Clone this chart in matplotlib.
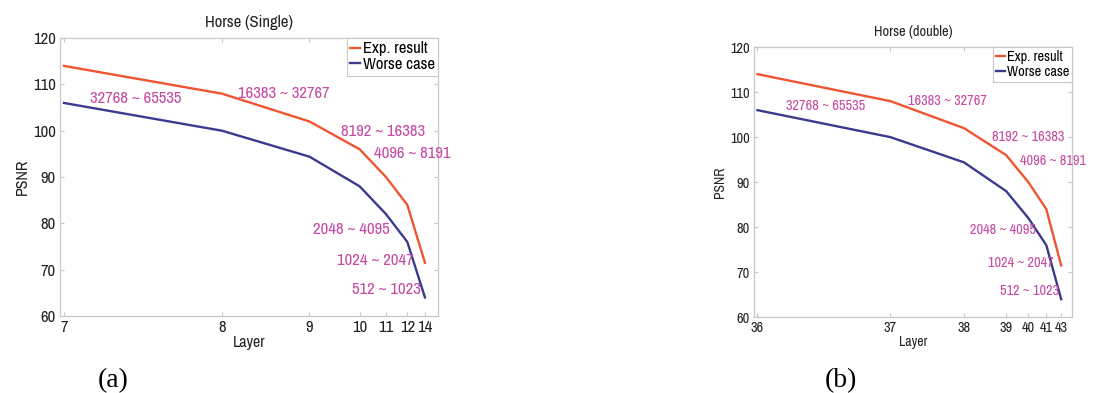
import matplotlib
matplotlib.use("Agg")
import matplotlib.pyplot as plt

# ---------------- data ----------------
layers_single = ["7", "8", "9", "10", "11", "12", "14"]
layers_double = ["36", "37", "38", "39", "40", "41", "43"]
# x positions of the layers on the (non-linear) axis
layer_pos = [0.0, 0.438, 0.680, 0.819, 0.892, 0.951, 1.0]
exp_result = [114.0, 108.0, 102.0, 96.0, 90.0, 84.0, 71.5]
worse_case = [106.0, 100.0, 94.4, 88.0, 82.0, 76.0, 64.0]
range_labels = ["32768 ~ 65535", "16383 ~ 32767", "8192 ~ 16383", "4096 ~ 8191",
                "2048 ~ 4095", "1024 ~ 2047", "512 ~ 1023"]
titles = ["Horse (Single)", "Horse (double)"]
panel_tags = ["(a)", "(b)"]

# ---------------- style ----------------
plt.rcParams["font.family"] = ["Archivo Narrow", "DejaVu Sans"]

RED = "#f05532"
BLUE = "#3b3a8e"
MAG = "#c548a3"
GRID_C = "#c8c8c8"
TXT = "#222222"

fig = plt.figure(figsize=(10.93, 3.93), dpi=100)

axes_rects = [
    [0.0549, 0.196, 0.3458, 0.707],
    [0.6899, 0.193, 0.2910, 0.687],
]
label_pos = [
    [(0.079, 0.781), (0.471, 0.802), (0.743, 0.665), (0.831, 0.583),
     (0.669, 0.313), (0.733, 0.198), (0.772, 0.097)],
    [(0.101, 0.781), (0.484, 0.801), (0.748, 0.668), (0.836, 0.579),
     (0.679, 0.322), (0.736, 0.200), (0.774, 0.097)],
]
scale = [1.0, 0.86]
tag_pos = [(0.104, 0.016), (0.769, 0.014)]
layer_sets = [layers_single, layers_double]

for i in range(2):
    k = scale[i]
    ax = fig.add_axes(axes_rects[i])
    ax.plot(layer_pos, exp_result, color=RED, lw=1.7, label="Exp. result")
    ax.plot(layer_pos, worse_case, color=BLUE, lw=1.7, label="Worse case")
    ax.set_xlim(-0.011, 1.036)
    ax.set_ylim(60, 120)
    ax.set_xticks(layer_pos)
    ax.set_xticklabels(layer_sets[i])
    ax.set_yticks(range(60, 121, 10))
    ax.tick_params(direction="in", length=3, color=GRID_C, labelsize=12 * k,
                   labelcolor=TXT, top=True, right=True, pad=3)
    for s in ax.spines.values():
        s.set_color(GRID_C)
        s.set_linewidth(0.9)
    ax.set_title(titles[i], fontsize=12 * k, color=TXT, pad=8)
    ax.set_xlabel("Layer", fontsize=11.5 * k, color=TXT, labelpad=0)
    ax.set_ylabel("PSNR", fontsize=11.5 * k, color=TXT, labelpad=2,
                  fontweight="bold")
    for txt, (tx, ty) in zip(range_labels, label_pos[i]):
        ax.text(tx, ty, txt, transform=ax.transAxes, color=MAG,
                fontsize=12 * k, ha="left", va="center", clip_on=False)
    leg = ax.legend(loc="upper right", fontsize=12 * k, handlelength=0.6,
                    handletextpad=0.15, borderpad=0.2, labelspacing=0.05,
                    borderaxespad=0.0, fancybox=False, framealpha=1)
    leg.get_frame().set_edgecolor(GRID_C)
    leg.get_frame().set_linewidth(0.8)
    fig.text(tag_pos[i][0], tag_pos[i][1], panel_tags[i],
             family="Liberation Serif", fontsize=20, color="black",
             ha="center", va="baseline")

fig.savefig("out.png", dpi=100)
